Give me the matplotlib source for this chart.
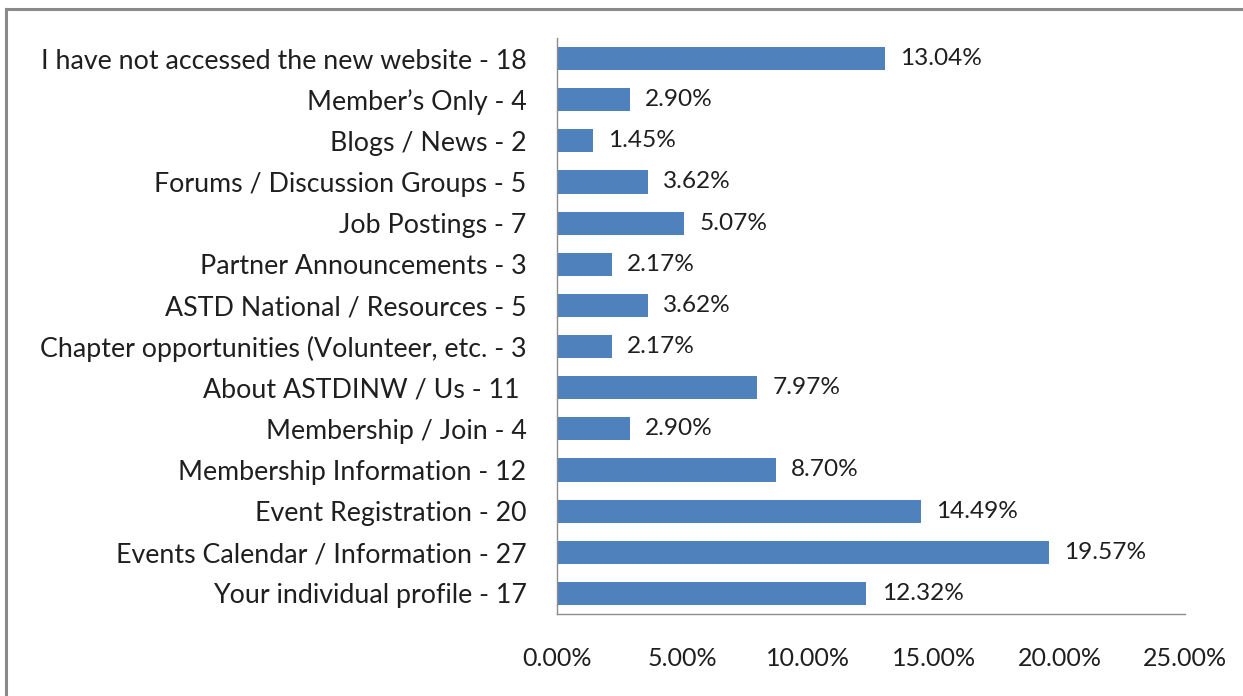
import matplotlib
matplotlib.use("Agg")
import matplotlib.pyplot as plt
from matplotlib.lines import Line2D
from matplotlib.ticker import FuncFormatter

# bottom-to-top, as in the chart
categories = [
    "Your individual profile - 17",
    "Events Calendar / Information - 27",
    "Event Registration - 20",
    "Membership Information - 12",
    "Membership / Join - 4",
    "About ASTDINW / Us - 11 ",
    "Chapter opportunities (Volunteer, etc. - 3",
    "ASTD National / Resources - 5",
    "Partner Announcements - 3",
    "Job Postings - 7",
    "Forums / Discussion Groups - 5",
    "Blogs / News - 2",
    "Member\u2019s Only - 4",
    "I have not accessed the new website - 18",
]
percents = [12.32, 19.57, 14.49, 8.70, 2.90, 7.97, 2.17, 3.62, 2.17, 5.07, 3.62, 1.45, 2.90, 13.04]
xticks = [0, 5, 10, 15, 20, 25]

plt.rcParams["font.family"] = ["Lato", "DejaVu Sans"]
bar_color = "#4F81BD"
text_color = "#1f1f1f"

fig = plt.figure(figsize=(12.43, 6.96), dpi=100)
ax = fig.add_axes([557 / 1243, 1 - 614 / 696, (1185 - 557) / 1243, (614 - 38) / 696])

ypos = range(len(categories))
ax.barh(ypos, percents, height=0.56, color=bar_color, zorder=2)
for y, v in zip(ypos, percents):
    ax.text(v + 0.6, y, f"{v:.2f}%", va="center", ha="left", fontsize=17.6, color=text_color)

ax.set_xlim(0, 25)
ax.set_ylim(-0.5, len(categories) - 0.5)
ax.set_yticks(list(ypos))
ax.set_yticklabels(categories, fontsize=19.3, color=text_color)
ax.set_xticks(xticks)
ax.xaxis.set_major_formatter(FuncFormatter(lambda v, p: f"{v:.2f}%"))
ax.tick_params(axis="x", length=0, pad=24, labelsize=18, labelcolor=text_color)
ax.tick_params(axis="y", length=0, pad=22)

for s in ["top", "right"]:
    ax.spines[s].set_visible(False)
for s in ["left", "bottom"]:
    ax.spines[s].set_color("#8c8c8c")
    ax.spines[s].set_linewidth(1.0)

# outer frame (top and left edges visible)
fig.add_artist(Line2D([6 / 1243, 1.0], [1 - 9 / 696, 1 - 9 / 696], color="#8a8a8a", lw=2.2, transform=fig.transFigure))
fig.add_artist(Line2D([6 / 1243, 6 / 1243], [0, 1 - 9 / 696], color="#8a8a8a", lw=2.2, transform=fig.transFigure))

fig.savefig("out.png", dpi=100)
